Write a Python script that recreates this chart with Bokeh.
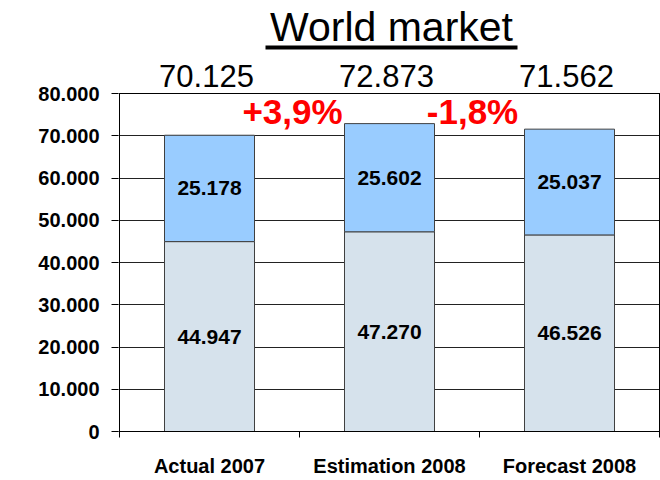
from bokeh.plotting import figure
from bokeh.models import FixedTicker, LabelSet, ColumnDataSource, Range1d
from bokeh.embed import file_html
from bokeh.resources import INLINE
from bokeh.core.properties import value

# ---- data ----
title_text = "World market"
categories = ["Actual 2007", "Estimation 2008", "Forecast 2008"]
lower = [44947, 47270, 46526]
upper = [25178, 25602, 25037]
lower_labels = ["44.947", "47.270", "46.526"]
upper_labels = ["25.178", "25.602", "25.037"]
total_labels = ["70.125", "72.873", "71.562"]
change_labels = ["+3,9%", "-1,8%"]
y_ticks = [0, 10000, 20000, 30000, 40000, 50000, 60000, 70000, 80000]
y_tick_labels = ["0", "10.000", "20.000", "30.000", "40.000", "50.000",
                 "60.000", "70.000", "80.000"]

FONT = "Liberation Sans"
YMAX = 80000
n = len(categories)

# ---- geometry (pixels) ----
PLOT_H = 338          # height of the boxed plot area
TOP_SPACE = 93        # space above the boxed plot area (title, totals)
PLOT_W = 540
dpp = YMAX / PLOT_H   # data units per pixel (vertical)
xpp = n / PLOT_W      # data units per pixel (horizontal)

centers = [i + 0.5 for i in range(n)]
totals = [a + b for a, b in zip(lower, upper)]

src = ColumnDataSource(dict(
    x=centers, lower=lower, upper=upper, totals=totals,
    lower_mid=[a / 2 for a in lower],
    upper_mid=[a + b / 2 for a, b in zip(lower, upper)],
    lower_labels=lower_labels, upper_labels=upper_labels,
    total_labels=total_labels,
    total_y=[YMAX + 7 * dpp] * n,
))

p = figure(frame_width=PLOT_W + 2, frame_height=PLOT_H + TOP_SPACE,
           min_border_left=118, min_border_right=0,
           min_border_top=0, min_border_bottom=49,
           x_range=Range1d(-xpp, n + xpp),
           y_range=Range1d(0, YMAX + TOP_SPACE * dpp),
           output_backend="svg", toolbar_location=None)

p.background_fill_color = "white"
p.border_fill_color = "white"
p.outline_line_color = None

# box around plot area (left, right, top)
p.segment(x0=[0, n, 0], y0=[0, 0, YMAX], x1=[0, n, n], y1=[YMAX, YMAX, YMAX],
          line_color="black", line_width=1)

# bars
p.vbar(x="x", width=0.5, bottom=0, top="lower", source=src,
       fill_color="#D6E2EC", line_color="#404040", line_width=1)
p.vbar(x="x", width=0.5, bottom="lower", top="totals", source=src,
       fill_color="#99CCFF", line_color="#404040", line_width=1)

# axes
yax = p.yaxis[0]
yax.ticker = FixedTicker(ticks=y_ticks)
yax.major_label_overrides = {t: l for t, l in zip(y_ticks, y_tick_labels)}
yax.major_tick_out = 7
yax.major_tick_in = 0
yax.minor_tick_out = 0
yax.minor_tick_in = 0
yax.major_label_standoff = 12
yax.major_label_text_font = FONT
yax.major_label_text_font_style = "bold"
yax.major_label_text_font_size = "20px"
yax.major_label_text_color = "black"
yax.axis_line_color = None
yax.major_tick_line_color = "black"

xax = p.xaxis[0]
xax.ticker = FixedTicker(ticks=centers, minor_ticks=[float(i) for i in range(n + 1)])
xax.major_label_overrides = {c: l for c, l in zip(centers, categories)}
xax.major_tick_out = 0
xax.major_tick_in = 0
xax.minor_tick_out = 6
xax.minor_tick_in = 0
xax.minor_tick_line_color = "black"
xax.major_label_standoff = 17
xax.major_label_text_font = FONT
xax.major_label_text_font_style = "bold"
xax.major_label_text_font_size = "20px"
xax.major_label_text_color = "black"
xax.axis_line_color = "black"

p.xgrid.visible = False
p.ygrid.ticker = FixedTicker(ticks=y_ticks)
p.ygrid.grid_line_color = "#222222"
p.ygrid.grid_line_width = 1

# inner labels
for field, lab in (("lower_mid", "lower_labels"), ("upper_mid", "upper_labels")):
    p.add_layout(LabelSet(x="x", y=field, text=lab, source=src,
                          text_align="center", text_baseline="middle",
                          text_font=value(FONT), text_font_style="bold",
                          text_font_size="21px", text_color="black"))

# totals above the box
p.add_layout(LabelSet(x="x", y="total_y", text="total_labels", source=src,
                      x_offset=-3,
                      text_align="center", text_baseline="alphabetic",
                      text_font=value(FONT), text_font_size="31px",
                      text_color="black"))

# change labels between bars
chg_src = ColumnDataSource(dict(
    x=[float(i + 1) for i in range(len(change_labels))],
    y=[YMAX - 30 * dpp] * len(change_labels),
    text=change_labels,
))
p.add_layout(LabelSet(x="x", y="y", text="text", source=chg_src, x_offset=-7,
                      text_align="center", text_baseline="alphabetic",
                      text_font=value(FONT), text_font_style="bold",
                      text_font_size="35px", text_color="#FF0000"))

# title with underline
title_src = ColumnDataSource(dict(x=[n / 2 + 2 * xpp], y=[YMAX + 53 * dpp],
                                  text=[title_text]))
p.add_layout(LabelSet(x="x", y="y", text="text", source=title_src,
                      text_align="center", text_baseline="alphabetic",
                      text_font=value(FONT), text_font_size="41px",
                      text_color="black"))
p.quad(left=[146 * xpp], right=[398 * xpp],
       bottom=[YMAX + 44 * dpp], top=[YMAX + 48 * dpp],
       fill_color="black", line_color=None)

open("out.html", "w").write(file_html(p, INLINE))
